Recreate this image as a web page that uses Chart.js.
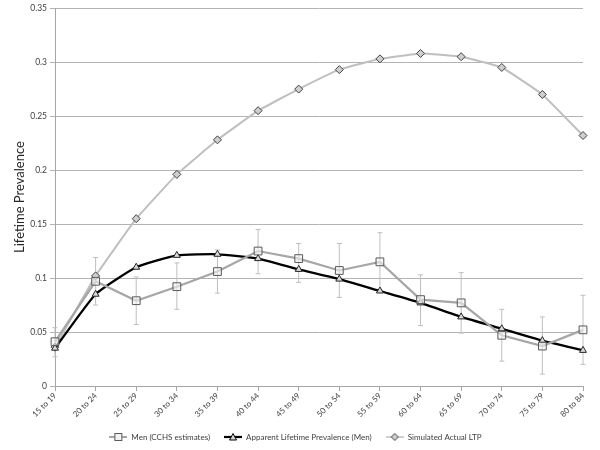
<!DOCTYPE html>
<html>
<head>
<meta charset="utf-8">
<script src="https://cdn.jsdelivr.net/npm/chart.js@4"></script>
<style>
  html, body { margin: 0; padding: 0; background: #fff; }
  #wrap { width: 600px; height: 450px; }
</style>
</head>
<body>
<div id="wrap"><canvas id="ltpChart" width="600" height="450"></canvas></div>
<script>
// Age groups along the x axis
const ageGroups = ['15 to 19', '20 to 24', '25 to 29', '30 to 34', '35 to 39', '40 to 44', '45 to 49',
  '50 to 54', '55 to 59', '60 to 64', '65 to 69', '70 to 74', '75 to 79', '80 to 84'];

// Men (CCHS estimates) with confidence interval
const menCchs  = [0.041, 0.097, 0.079, 0.092, 0.106, 0.125, 0.118, 0.107, 0.115, 0.080, 0.077, 0.047, 0.037, 0.052];
const menLower = [0.027, 0.075, 0.057, 0.071, 0.086, 0.104, 0.096, 0.082, 0.089, 0.056, 0.049, 0.023, 0.011, 0.020];
const menUpper = [0.054, 0.119, 0.101, 0.114, 0.126, 0.145, 0.132, 0.132, 0.142, 0.103, 0.105, 0.071, 0.064, 0.084];

// Apparent lifetime prevalence (men)
const apparentLtp = [0.035, 0.085, 0.110, 0.121, 0.122, 0.118, 0.108, 0.099, 0.088, 0.077, 0.064, 0.053, 0.042, 0.033];

// Simulated actual LTP
const simulatedLtp = [0.036, 0.102, 0.155, 0.196, 0.228, 0.255, 0.275, 0.293, 0.303, 0.308, 0.305, 0.295, 0.270, 0.232];

const FONT = 'Lato, "Noto Sans", sans-serif';

// Small line+marker icons for the legend, like the original spreadsheet legend
function makeLegendIcon(lineColor, lineWidth, marker) {
  const c = document.createElement('canvas');
  c.width = 18; c.height = 10;
  const ctx = c.getContext('2d');
  ctx.strokeStyle = lineColor;
  ctx.lineWidth = lineWidth;
  ctx.beginPath();
  ctx.moveTo(0, 5); ctx.lineTo(18, 5);
  ctx.stroke();
  marker(ctx, 9, 5);
  return c;
}

const legendIcons = [
  makeLegendIcon('#a6a6a6', 2, (ctx, x, y) => {
    ctx.fillStyle = '#f2f2f2'; ctx.strokeStyle = '#595959'; ctx.lineWidth = 1;
    ctx.fillRect(x - 3.5, y - 3.5, 7, 7); ctx.strokeRect(x - 3.5, y - 3.5, 7, 7);
  }),
  makeLegendIcon('#000000', 2.2, (ctx, x, y) => {
    ctx.fillStyle = '#d9d9d9'; ctx.strokeStyle = '#000'; ctx.lineWidth = 1;
    ctx.beginPath(); ctx.moveTo(x, y - 3.5); ctx.lineTo(x + 3.5, y + 3); ctx.lineTo(x - 3.5, y + 3); ctx.closePath();
    ctx.fill(); ctx.stroke();
  }),
  makeLegendIcon('#bfbfbf', 1.5, (ctx, x, y) => {
    ctx.fillStyle = '#d0d0d0'; ctx.strokeStyle = '#404040'; ctx.lineWidth = 1;
    ctx.beginPath(); ctx.moveTo(x, y - 3.5); ctx.lineTo(x + 3.5, y); ctx.lineTo(x, y + 3.5); ctx.lineTo(x - 3.5, y); ctx.closePath();
    ctx.fill(); ctx.stroke();
  })
];

// Vertical error bars for the CCHS estimates
const errorBarPlugin = {
  id: 'errorBars',
  beforeDatasetsDraw(chart) {
    const { ctx, scales: { x, y } } = chart;
    ctx.save();
    ctx.strokeStyle = '#bfbfbf';
    ctx.lineWidth = 1;
    menLower.forEach((lo, i) => {
      const px = x.getPixelForValue(i);
      const top = y.getPixelForValue(menUpper[i]);
      const bot = y.getPixelForValue(lo);
      ctx.beginPath();
      ctx.moveTo(px, top); ctx.lineTo(px, bot);
      ctx.moveTo(px - 2.5, top); ctx.lineTo(px + 2.5, top);
      ctx.moveTo(px - 2.5, bot); ctx.lineTo(px + 2.5, bot);
      ctx.stroke();
    });
    ctx.restore();
  }
};

new Chart(document.getElementById('ltpChart'), {
  type: 'line',
  data: {
    labels: ageGroups,
    datasets: [
      {
        label: 'Men (CCHS estimates)',
        data: menCchs,
        borderColor: '#a6a6a6',
        borderWidth: 2.2,
        pointStyle: 'rect',
        pointRadius: 5.5,
        pointBorderWidth: 1,
        pointBorderColor: '#595959',
        pointBackgroundColor: 'rgba(242,242,242,0.6)',
        tension: 0
      },
      {
        label: 'Apparent Lifetime Prevalence (Men)',
        data: apparentLtp,
        borderColor: '#000000',
        borderWidth: 2.3,
        pointStyle: 'triangle',
        pointRadius: 4,
        pointBorderWidth: 1,
        pointBorderColor: '#262626',
        pointBackgroundColor: '#d9d9d9',
        tension: 0.15
      },
      {
        label: 'Simulated Actual LTP',
        data: simulatedLtp,
        borderColor: '#bfbfbf',
        borderWidth: 2,
        pointStyle: 'rectRot',
        pointRadius: 4,
        pointBorderWidth: 1,
        pointBorderColor: '#404040',
        pointBackgroundColor: '#cfcfcf',
        tension: 0.1
      }
    ]
  },
  options: {
    responsive: false,
    animation: false,
    layout: { padding: { left: 8, right: 17, top: 5, bottom: 0 } },
    plugins: {
      tooltip: { enabled: false },
      legend: {
        position: 'bottom',
        maxHeight: 31,
        labels: {
          usePointStyle: true,
          pointStyleWidth: 18,
          boxHeight: 8,
          padding: 14,
          color: '#404040',
          font: { family: FONT, size: 8 },
          generateLabels: chart => chart.data.datasets.map((ds, i) => ({
            text: ds.label,
            pointStyle: legendIcons[i],
            datasetIndex: i,
            hidden: false,
            lineWidth: 0,
            fillStyle: 'transparent',
            strokeStyle: 'transparent',
            fontColor: '#404040'
          }))
        }
      }
    },
    scales: {
      x: {
        offset: false,
        grid: { drawOnChartArea: false, drawTicks: true, tickLength: 5, color: '#a6a6a6' },
        border: { color: '#a6a6a6' },
        ticks: {
          minRotation: 45, maxRotation: 45, autoSkip: false, padding: 0,
          color: '#404040', font: { family: FONT, size: 8 }
        },
        afterFit: scale => { scale.height = 33; }
      },
      y: {
        min: 0, max: 0.35,
        grid: { color: '#b3b3b3', tickLength: 5 },
        border: { color: '#a6a6a6' },
        ticks: {
          stepSize: 0.05, padding: 3,
          color: '#404040', font: { family: FONT, size: 8.5 },
          callback: v => String(+v.toFixed(2))
        },
        title: {
          display: true, text: 'Lifetime Prevalence',
          color: '#262626', font: { family: FONT, size: 13 }, padding: { bottom: 6 }
        },
        afterFit: scale => { scale.width = 47; }
      }
    }
  },
  plugins: [errorBarPlugin]
});
</script>
</body>
</html>
